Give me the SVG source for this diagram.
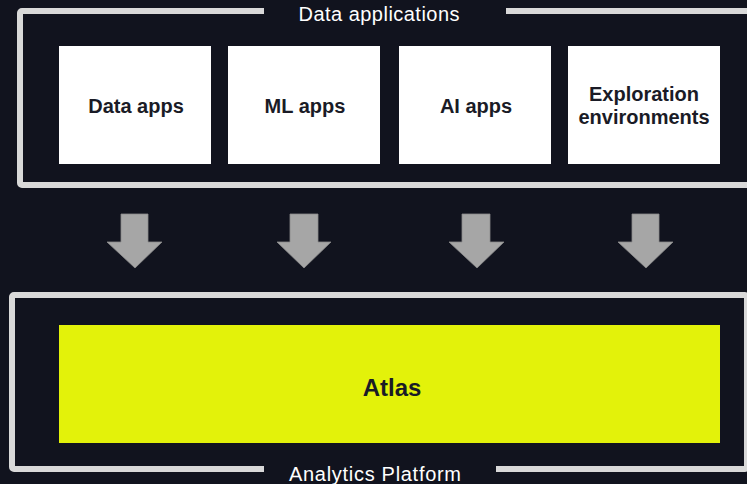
<svg xmlns="http://www.w3.org/2000/svg" width="747" height="484" viewBox="0 0 747 484">
  <style>
    .frame { fill: none; stroke: #d9d9d9; stroke-width: 6; }
    .gap { fill: #11131e; }
    .box { fill: #ffffff; }
    .lbl { font-family: "Liberation Sans", Arial, sans-serif; font-weight: bold; font-size: 20px; fill: #1a1b26; text-anchor: middle; }
    .title { font-family: "Liberation Sans", Arial, sans-serif; font-size: 20px; fill: #ffffff; text-anchor: middle; }
    .arrow { fill: #a6a6a6; stroke: #8c8c8c; stroke-width: 0.8; }
  </style>
  <rect x="0" y="0" width="747" height="484" fill="#11131e"/>

  <g id="data-applications">
    <rect class="frame" x="20" y="11" width="735" height="174" rx="2"/>
    <rect class="gap" x="264" y="0" width="242" height="24"/>
    <text class="title" x="379" y="21" textLength="161" lengthAdjust="spacing">Data applications</text>
  </g>

  <g id="analytics-platform">
    <rect class="frame" x="12" y="295" width="735" height="174" rx="2"/>
    <rect class="gap" x="264" y="460" width="232" height="24"/>
    <text class="title" x="375" y="481" textLength="172" lengthAdjust="spacing">Analytics Platform</text>
  </g>

  <g id="data-apps">
    <rect class="box" x="59" y="46" width="152" height="118"/>
    <text class="lbl" x="136" y="113">Data apps</text>
  </g>
  <g id="ml-apps">
    <rect class="box" x="228" y="46" width="152" height="118"/>
    <text class="lbl" x="305" y="113">ML apps</text>
  </g>
  <g id="ai-apps">
    <rect class="box" x="399" y="46" width="152" height="118"/>
    <text class="lbl" x="476" y="113">AI apps</text>
  </g>
  <g id="exploration-environments">
    <rect class="box" x="568" y="46" width="152" height="118"/>
    <text class="lbl" x="644" y="101">Exploration</text>
    <text class="lbl" x="644" y="124">environments</text>
  </g>

  <g id="atlas">
    <rect x="59" y="325" width="661" height="118" fill="#e3f20a"/>
    <text class="lbl" x="392" y="396" style="font-size:24px">Atlas</text>
  </g>

  <g id="connectors">
    <polygon class="arrow" points="121,214 148,214 148,242 162,242 135,268 107,242 121,242"/>
    <polygon class="arrow" points="290,214 318,214 318,242 331,242 304,268 277,242 290,242"/>
    <polygon class="arrow" points="462,214 490,214 490,242 504,242 477,268 449,242 462,242"/>
    <polygon class="arrow" points="632,214 659,214 659,242 673,242 646,268 618,242 632,242"/>
  </g>
</svg>
